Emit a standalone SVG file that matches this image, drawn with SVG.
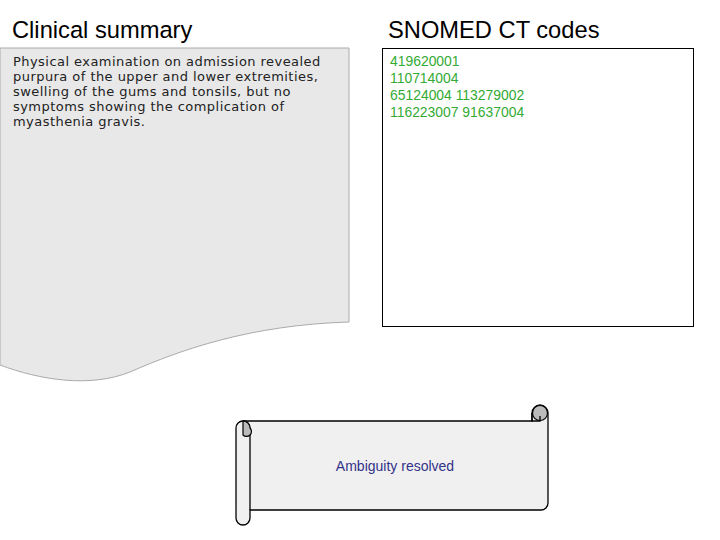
<svg xmlns="http://www.w3.org/2000/svg" width="720" height="540" viewBox="0 0 720 540">
<style>
.title{font-family:"Liberation Sans",Arial,sans-serif;font-size:23.7px;fill:#000}
.body{font-family:"DejaVu Sans",Verdana,sans-serif;font-size:13px;letter-spacing:0.45px;fill:#222}
.code{font-family:"Liberation Sans",Arial,sans-serif;font-size:13.9px;fill:#3a3}
.ln{stroke:#000;stroke-width:1.3}
</style>
<rect width="720" height="540" fill="#fff"/>
<g id="summary">
<text class="title" x="12" y="38">Clinical summary</text>
<path d="M0,48 H349 V322 C250,325 180,350 130,372 C90,388 40,380 0,365 Z" fill="#e8e8e8" stroke="#aaa" stroke-width="1"/>
<text class="body"><tspan x="13" y="66">Physical examination on admission revealed</tspan><tspan x="13" y="81">purpura of the upper and lower extremities,</tspan><tspan x="13" y="96">swelling of the gums and tonsils, but no</tspan><tspan x="13" y="111">symptoms showing the complication of</tspan><tspan x="13" y="126">myasthenia gravis.</tspan></text>
</g>
<g id="codes">
<text class="title" x="388" y="38">SNOMED CT codes</text>
<rect x="382.5" y="48.5" width="311" height="278" fill="#fff" stroke="#000"/>
<text class="code"><tspan x="390" y="66">419620001</tspan><tspan x="390" y="83">110714004</tspan><tspan x="390" y="100">65124004 113279002</tspan><tspan x="390" y="117">116223007 91637004</tspan></text>
</g>
<g id="scroll">
<path class="ln" d="M243,421 H532 V413 A8,8 0 0 1 548,413 V503 A7,7 0 0 1 541,510 H250 V518 A7,7 0 0 1 236,518 V428 A7,7 0 0 1 243,421 Z" fill="#f0f0f0"/>
<circle cx="540" cy="413" r="7.5" fill="#bbb" stroke="#000" stroke-width="1.2"/>
<path class="ln" d="M532,413 V421 H540 V416" fill="none"/>
<path class="ln" d="M243,421 A7,7 0 0 1 250,428 V510" fill="none"/>
<path d="M243,421 A7,7 0 0 1 250,428 A4,4 0 0 1 243,435 Z" fill="#bbb" stroke="#000" stroke-width="1.2"/>
<text x="395" y="471" text-anchor="middle" font-family="Liberation Sans,Arial,sans-serif" font-size="14" fill="#33338a">Ambiguity resolved</text>
</g>
</svg>
